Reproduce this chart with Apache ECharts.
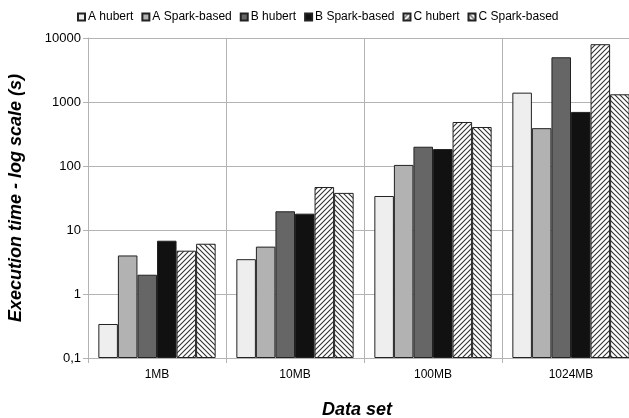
<!DOCTYPE html>
<html><head><meta charset="utf-8">
<script src="https://cdn.jsdelivr.net/npm/echarts@6/dist/echarts.min.js"></script>
<style>html,body{margin:0;padding:0;background:#fff}#c{width:629px;height:418px}</style>
</head><body><div id="c"></div>
<script>
const categories = ['1MB', '10MB', '100MB', '1024MB'];
const seriesNames = ['A hubert', 'A Spark-based', 'B hubert', 'B Spark-based', 'C hubert', 'C Spark-based'];
const aHubert = [0.34, 3.5, 34, 1400];
const aSpark = [4.0, 5.5, 104, 390];
const bHubert = [2.0, 19.6, 200, 5000];
const bSpark = [6.8, 18, 184, 700];
const cHubert = [4.75, 47, 487, 8000];
const cSpark = [6.1, 38, 407, 1320];
const yMin = 0.1, yMax = 10000;

function hatch(forward) {
  const n = 5;
  const c = document.createElement('canvas');
  c.width = n; c.height = n;
  const g = c.getContext('2d');
  g.fillStyle = '#ffffff'; g.fillRect(0, 0, n, n);
  g.strokeStyle = '#333333'; g.lineWidth = 1.1;
  g.beginPath();
  if (forward) {
    g.moveTo(-1, n + 1); g.lineTo(n + 1, -1);
    g.moveTo(-1, 1); g.lineTo(1, -1);
    g.moveTo(n - 1, n + 1); g.lineTo(n + 1, n - 1);
  } else {
    g.moveTo(-1, -1); g.lineTo(n + 1, n + 1);
    g.moveTo(-1, n - 1); g.lineTo(1, n + 1);
    g.moveTo(n - 1, -1); g.lineTo(n + 1, 1);
  }
  g.stroke();
  return { image: c, repeat: 'repeat' };
}

const fills = ['#eeeeee', '#b2b2b2', '#666666', '#111111', hatch(true), hatch(false)];
const values = [aHubert, aSpark, bHubert, bSpark, cHubert, cSpark];

const chart = echarts.init(document.getElementById('c'), null, { renderer: 'canvas' });
const font = 'Liberation Sans';
chart.setOption({
  animation: false,
  backgroundColor: '#ffffff',
  legend: {
    top: 6, left: 72,
    itemWidth: 7, itemHeight: 7, itemGap: 8,
    icon: 'rect',
    textStyle: { fontFamily: font, fontSize: 12, color: '#000', padding: [0, 0, 0, -2] },
    data: seriesNames
  },
  grid: { left: 88, right: -11, top: 38, bottom: 60, outerBoundsMode: 'none', containLabel: false },
  xAxis: {
    type: 'category', data: categories,
    axisLine: { lineStyle: { color: '#b3b3b3' } },
    axisTick: { show: true, length: 5, lineStyle: { color: '#b3b3b3' } },
    axisLabel: { fontFamily: font, fontSize: 12, color: '#000', margin: 11 },
    splitLine: { show: true, lineStyle: { color: '#b3b3b3' } },
    name: 'Data set', nameLocation: 'middle', nameGap: 43,
    nameTextStyle: { fontFamily: font, fontSize: 18, fontWeight: 'bold', fontStyle: 'italic', color: '#000', padding: [0, 14, 0, 0] }
  },
  yAxis: {
    type: 'log', logBase: 10, min: yMin, max: yMax, startValue: yMin,
    axisLine: { show: true, lineStyle: { color: '#b3b3b3' } },
    axisTick: { show: true, length: 5, lineStyle: { color: '#b3b3b3' } },
    axisLabel: {
      fontFamily: font, fontSize: 13, color: '#000', margin: 7,
      formatter: v => Number(Number(v).toPrecision(6)).toString().replace('.', ',')
    },
    splitLine: { show: true, lineStyle: { color: '#b3b3b3' } },
    minorTick: { show: false },
    name: 'Execution time - log scale (s)', nameLocation: 'middle', nameGap: 63,
    nameTextStyle: { fontFamily: font, fontSize: 18, fontWeight: 'bold', fontStyle: 'italic', color: '#000' }
  },
  series: seriesNames.map((name, i) => ({
    name, type: 'bar', data: values[i],
    barGap: '0%', barCategoryGap: '15%',
    itemStyle: { color: fills[i], borderColor: '#222222', borderWidth: 1 }
  }))
});
</script>
</body></html>
